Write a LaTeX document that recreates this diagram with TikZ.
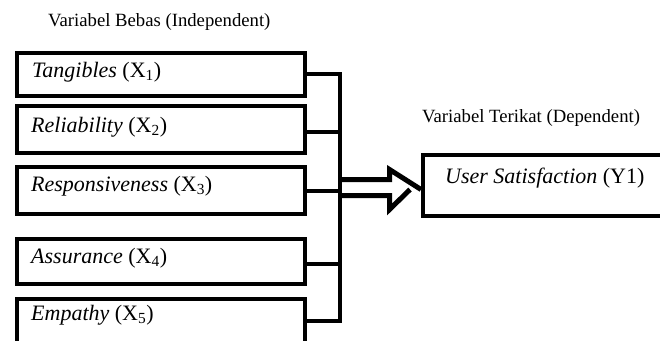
\documentclass[tikz,border=0pt]{standalone}
\usepackage{fontspec}
\setmainfont{Liberation Serif}
\begin{document}
\begin{tikzpicture}[x=1pt,y=-1pt,
  box/.style={draw=black, line width=4.4pt, rectangle, anchor=north west, inner sep=0pt},
  conn/.style={draw=black, line width=4pt, line join=miter},
  lab/.style={anchor=base west, inner sep=0pt, font=\fontsize{22}{26}\selectfont},
  head/.style={anchor=base west, inner sep=0pt, font=\fontsize{18.7}{22}\selectfont}]
\useasboundingbox (0,0) rectangle (660,340);
\clip (0,0) rectangle (660,340);
% headings
\node[head] (hb) at (48,26) {Variabel Bebas (Independent)};
\node[head] (ht) at (422,122) {Variabel Terikat (Dependent)};
% independent boxes
\node[box, minimum width=288pt, minimum height=43pt] (b1) at (15,51) {};
\node[box, minimum width=288pt, minimum height=47pt] (b2) at (15,104) {};
\node[box, minimum width=288pt, minimum height=47pt] (b3) at (15,165) {};
\node[box, minimum width=288pt, minimum height=45pt] (b4) at (15,237) {};
\node[box, minimum width=288pt, minimum height=70pt] (b5) at (15,297) {};
\node[lab] (t1) at ([shift={(17,26)}]b1.north west) {\textit{Tangibles} (X\textsubscript{1})};
\node[lab] (t2) at ([shift={(16,28)}]b2.north west) {\textit{Reliability} (X\textsubscript{2})};
\node[lab] (t3) at ([shift={(16,26)}]b3.north west) {\textit{Responsiveness} (X\textsubscript{3})};
\node[lab] (t4) at ([shift={(16,26)}]b4.north west) {\textit{Assurance} (X\textsubscript{4})};
\node[lab] (t5) at ([shift={(16,23)}]b5.north west) {\textit{Empathy} (X\textsubscript{5})};
% dependent box
\node[box, minimum width=280pt, minimum height=61pt] (yb) at (421,152.5) {};
\node[lab] (ty) at ([shift={(24,31)}]yb.north west) {\textit{User Satisfaction} (Y1)};
% junction coordinates
\coordinate (j1) at (340,74);
\coordinate (j2) at (340,132);
\coordinate (j3) at (340,191);
\coordinate (j4) at (340,264);
\coordinate (j5) at (340,321);
% hollow arrow
\draw[line width=5pt, fill=white, line join=miter]
  (j3 |- 0,179.5) -- (389.5,179.5) -- (389.5,169.5) -- (yb.west |- 0,189.5) ++(-11,0) -- (389.5,209.5) -- (389.5,195.5) -- (j3 |- 0,195.5);
% connectors
\draw[conn] (b1.east |- j1) -- (j1) -- (j5) -- (b5.east |- j5);
\draw[conn] (b2.east |- j2) -- (j2);
\draw[conn] (b3.east |- j3) -- (j3);
\draw[conn] (b4.east |- j4) -- (j4);
\end{tikzpicture}
\end{document}
